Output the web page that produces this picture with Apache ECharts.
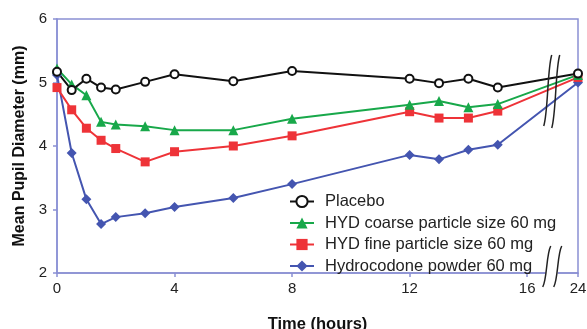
<!DOCTYPE html>
<html>
<head>
<meta charset="utf-8">
<script src="https://cdn.jsdelivr.net/npm/echarts@6/dist/echarts.min.js"></script>
<style>
  html, body { margin: 0; padding: 0; background: #fff; }
  #chart { width: 587px; height: 329px; }
</style>
</head>
<body>
<div id="chart"></div>
<script>
// sampling times (hours); 24 h sits after an axis break
var hours = [0, 0.5, 1, 1.5, 2, 3, 4, 6, 8, 12, 13, 14, 15, 24];
var xTicks = [0, 4, 8, 12, 16, 24];
var yTicks = [2, 3, 4, 5, 6];

var placebo = [5.17, 4.88, 5.06, 4.92, 4.89, 5.01, 5.13, 5.02, 5.18, 5.06, 4.99, 5.06, 4.92, 5.14];
var coarse  = [5.22, 4.97, 4.80, 4.38, 4.34, 4.31, 4.25, 4.25, 4.43, 4.65, 4.71, 4.61, 4.66, 5.12];
var fine    = [4.92, 4.57, 4.28, 4.09, 3.96, 3.75, 3.91, 4.00, 4.16, 4.54, 4.44, 4.44, 4.55, 5.08];
var powder  = [5.12, 3.89, 3.16, 2.77, 2.88, 2.94, 3.04, 3.18, 3.40, 3.86, 3.79, 3.94, 4.02, 5.00];

// where 24 h lands on the broken axis
var X24 = 17.73;
function pos(h) { return h === 24 ? X24 : h; }
function pairs(vals) { return hours.map(function (h, i) { return [pos(h), vals[i]]; }); }

var axisColor = '#8a90d4';
var chart = echarts.init(document.getElementById('chart'));

var option = {
    animation: false,
    textStyle: { fontFamily: 'Liberation Sans, Arial, sans-serif' },
    grid: {
        left: 57, right: 9, top: 19, bottom: 56,
        outerBoundsMode: 'none',
        show: true, borderColor: axisColor, borderWidth: 1.5
    },
    legend: {
        orient: 'vertical',
        left: 284, top: 188,
        itemWidth: 24, itemHeight: 14, itemGap: 4.5,
        data: ['Placebo', 'HYD coarse particle size 60 mg', 'HYD fine particle size 60 mg', 'Hydrocodone powder 60 mg'],
        textStyle: { fontSize: 16.5, color: '#222', lineHeight: 14, padding: [0, 0, 0, 6] }
    },
    xAxis: {
        type: 'value',
        min: 0, max: X24,
        name: 'Time (hours)',
        nameLocation: 'middle',
        nameGap: 43,
        nameTextStyle: { fontSize: 16.5, fontWeight: 'bold', color: '#111' },
        splitLine: { show: false },
        axisLine: { lineStyle: { color: axisColor, width: 1.5 } },
        axisTick: { length: 4, lineStyle: { color: axisColor, width: 1.5 }, customValues: xTicks.map(pos) },
        axisLabel: {
            customValues: xTicks.map(pos),
            fontSize: 15, color: '#222', margin: 8,
            formatter: function (v) { return Math.abs(v - X24) < 0.01 ? '24' : String(v); }
        }
    },
    yAxis: {
        type: 'value',
        min: 2, max: 6, interval: 1,
        name: 'Mean Pupil Diameter (mm)',
        nameLocation: 'middle',
        nameGap: 29,
        nameTextStyle: { fontSize: 16, fontWeight: 'bold', color: '#111' },
        splitLine: { show: false },
        axisLine: { show: true, lineStyle: { color: axisColor, width: 1.5 } },
        axisTick: { show: true, length: 4, lineStyle: { color: axisColor, width: 1.5 } },
        axisLabel: { fontSize: 15, color: '#222', margin: 10 }
    },
    series: [
        {
            name: 'Hydrocodone powder 60 mg', type: 'line', data: pairs(powder),
            symbol: 'diamond', symbolSize: 10,
            lineStyle: { color: '#4455b0', width: 2 },
            itemStyle: { color: '#4455b0' }
        },
        {
            name: 'HYD fine particle size 60 mg', type: 'line', data: pairs(fine),
            symbol: 'rect', symbolSize: 9,
            lineStyle: { color: '#ee3338', width: 2 },
            itemStyle: { color: '#ee3338' }
        },
        {
            name: 'HYD coarse particle size 60 mg', type: 'line', data: pairs(coarse),
            symbol: 'triangle', symbolSize: 10,
            lineStyle: { color: '#18a84a', width: 2 },
            itemStyle: { color: '#18a84a' }
        },
        {
            name: 'Placebo', type: 'line', data: pairs(placebo),
            symbol: 'circle', symbolSize: 8,
            lineStyle: { color: '#111', width: 2 },
            itemStyle: { color: '#fff', borderColor: '#111', borderWidth: 2 }
        }
    ]
};
chart.setOption(option);

// axis break marks drawn around the 16-24 gap
function breakMark(x, y0, y1) {
    var h = y1 - y0;
    return {
        type: 'bezierCurve',
        shape: {
            x1: x + 4, y1: y0,
            cpx1: x - 0.5, cpy1: y0 + h * 0.2,
            cpx2: x + 0.5, cpy2: y1 - h * 0.2,
            x2: x - 4, y2: y1
        },
        style: { stroke: '#222', lineWidth: 1.5, fill: null },
        z: 100
    };
}
var bx = chart.convertToPixel({ xAxisIndex: 0 }, 16.7);
var axisY = chart.convertToPixel({ yAxisIndex: 0 }, 2);
chart.setOption({
    graphic: [
        { type: 'rect', shape: { x: bx - 2, y: axisY - 2, width: 12, height: 4 }, style: { fill: '#fff' }, z: 99 },
        breakMark(bx, 55, 126),
        breakMark(bx + 8, 55, 128),
        breakMark(bx - 1, 246, 287),
        breakMark(bx + 10, 246, 287)
    ]
});
</script>
</body>
</html>
